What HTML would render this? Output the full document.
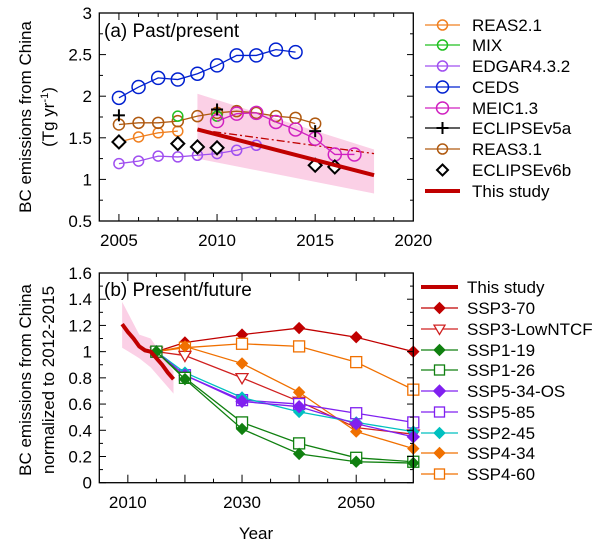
<!DOCTYPE html>
<html><head><meta charset="utf-8"><style>
body{margin:0;background:#fff}
svg{display:block;font-family:"Liberation Sans",Arial,sans-serif}
</style></head><body>
<svg id="c" width="600" height="551" viewBox="0 0 600 551" xmlns="http://www.w3.org/2000/svg"></svg>
<script>
// ---------- Panel (a) data ----------
const yearsCEDS=[2005,2006,2007,2008,2009,2010,2011,2012,2013,2014];
const valsCEDS=[1.98,2.11,2.22,2.2,2.27,2.37,2.49,2.49,2.56,2.53];
const yearsREAS3=[2005,2006,2007,2008,2009,2010,2011,2012,2013,2014,2015];
const valsREAS3=[1.66,1.68,1.68,1.7,1.76,1.8,1.82,1.8,1.76,1.74,1.67];
const yearsREAS2=[2005,2006,2007,2008];
const valsREAS2=[1.45,1.51,1.56,1.58];
const yearsMIX=[2008,2010];
const valsMIX=[1.76,1.76];
const yearsEDGAR=[2005,2006,2007,2008,2009,2010,2011,2012];
const valsEDGAR=[1.19,1.22,1.28,1.27,1.29,1.31,1.35,1.41];
const yearsMEIC=[2010,2011,2012,2013,2014,2015,2016,2017];
const valsMEIC=[1.7,1.79,1.8,1.69,1.6,1.49,1.3,1.3];
const yearsE5=[2005,2010,2015];
const valsE5=[1.77,1.84,1.58];
const yearsE6=[2005,2008,2009,2010,2015,2016];
const valsE6=[1.45,1.43,1.39,1.38,1.17,1.15];
const yearsStudyA=[2009,2018];
const valsStudyA=[1.6,1.05];
const valsDashA=[1.6,1.31];
const bandUpperA=[2.03,1.36];
const bandLowerA=[1.25,0.83];
const yTicksA=[0.5,1,1.5,2,2.5,3];
const xTicksA=[2005,2010,2015,2020];
// ---------- Panel (b) data ----------
const sspYears=[2015,2020,2030,2040,2050,2060];
const ssp370=[1,1.07,1.13,1.18,1.11,1.0];
const ssp3low=[1,0.97,0.8,0.62,0.42,0.37];
const ssp119=[1,0.79,0.41,0.22,0.16,0.15];
const ssp126=[1,0.8,0.46,0.3,0.19,0.16];
const ssp534=[1,0.82,0.62,0.58,0.45,0.35];
const ssp585=[1,0.82,0.63,0.6,0.53,0.46];
const ssp245=[1,0.84,0.65,0.54,0.46,0.39];
const ssp434=[1,1.04,0.91,0.69,0.39,0.26];
const ssp460=[1,1.03,1.06,1.04,0.92,0.71];
const yearsStudyB=[2009,2010,2011,2012,2013,2014,2015,2016,2017,2018];
const valsStudyB=[1.21,1.15,1.1,1.04,1.01,1.0,0.95,0.9,0.84,0.79];
const bandYearsB=[2009,2012,2014,2018];
const bandUpperB=[1.38,1.13,1.1,0.85];
const bandLowerB=[1.03,0.95,0.88,0.68];
const yTicksB=[0,0.2,0.4,0.6,0.8,1,1.2,1.4,1.6];
const xTicksB=[2010,2030,2050];

const NS="http://www.w3.org/2000/svg";
const svg=document.getElementById('c');
function mk(tag,attrs,parent){const e=document.createElementNS(NS,tag);for(const k in attrs)e.setAttribute(k,attrs[k]);(parent||svg).appendChild(e);return e;}
// axis functions
const xa=v=>99.3+(v-2004)*(413.3-99.3)/16;
const ya=v=>221-(v-0.5)*(221-13)/2.5;
const xb=v=>99.3+(v-2005)*(413.3-99.3)/55;
const yb=v=>482.7-v*(482.7-273)/1.6;

function frame(x0,y0,x1,y1,name){
  const r=mk('rect',{x:x0,y:y0,width:x1-x0,height:y1-y0,fill:'none',stroke:'#000','stroke-width':1.3});
  
  
}
function txt(x,y,s,opt,name){
  const t=mk('text',Object.assign({x:x,y:y,'font-size':17,fill:'#000'},opt||{}));
  t.textContent=s;
  
  
  return t;
}
function marker(g,type,x,y,color,r){
  if(type==='circle')mk('circle',{cx:x,cy:y,r:r,fill:'none',stroke:color,'stroke-width':1.5},g);
  else if(type==='fdiamond')mk('polygon',{points:`${x},${y-r} ${x+r},${y} ${x},${y+r} ${x-r},${y}`,fill:color,stroke:color},g);
  else if(type==='diamond')mk('polygon',{points:`${x},${y-r} ${x+r},${y} ${x},${y+r} ${x-r},${y}`,fill:'#fff',stroke:color,'stroke-width':2},g);
  else if(type==='square')mk('rect',{x:x-r,y:y-r,width:2*r,height:2*r,fill:'#fff',stroke:color,'stroke-width':1.3},g);
  else if(type==='tri')mk('polygon',{points:`${x-r},${y-r*0.7} ${x+r},${y-r*0.7} ${x},${y+r}`,fill:'#fff',stroke:color,'stroke-width':1.3},g);
  else if(type==='plus'){mk('line',{x1:x-r,y1:y,x2:x+r,y2:y,stroke:color,'stroke-width':2},g);mk('line',{x1:x,y1:y-r,x2:x,y2:y+r,stroke:color,'stroke-width':2},g);}
}
function series(name,xs,ys,fx,fy,color,type,r,line,lw){
  const g=mk('g',{});
  
  
  if(line){mk('polyline',{points:xs.map((v,i)=>fx(v)+','+fy(ys[i])).join(' '),fill:'none',stroke:color,'stroke-width':lw||1.3},g);}
  if(type)xs.forEach((v,i)=>marker(g,type,fx(v),fy(ys[i]),color,r));
}
function legend(name,y,label,color,type,r,lx0,lx1,tx,lw){
  const g=mk('g',{});
  
  
  if(type!=='diamond')mk('line',{x1:lx0,y1:y,x2:lx1,y2:y,stroke:color,'stroke-width':lw||1.3},g);
  if(type)marker(g,type,(lx0+lx1)/2,y,color,r);
  const t=mk('text',{x:tx,y:y+6,'font-size':17},g);t.textContent=label;
}

// ===== Panel (a) =====
// band
const bandA=mk('polygon',{points:[xa(yearsStudyA[0])+','+ya(bandUpperA[0]),xa(yearsStudyA[1])+','+ya(bandUpperA[1]),xa(yearsStudyA[1])+','+ya(bandLowerA[1]),xa(yearsStudyA[0])+','+ya(bandLowerA[0])].join(' '),fill:'#fbd0e6',stroke:'none'});


const dashA=mk('line',{x1:xa(yearsStudyA[0]),y1:ya(valsDashA[0]),x2:xa(yearsStudyA[1]),y2:ya(valsDashA[1]),stroke:'#c00000','stroke-width':1.3,'stroke-dasharray':'8,3,2,3'});


series('series-edgar',yearsEDGAR,valsEDGAR,xa,ya,'#a050f0','circle',5,true);
series('series-reas2',yearsREAS2,valsREAS2,xa,ya,'#f08020','circle',5,true);
series('series-reas3',yearsREAS3,valsREAS3,xa,ya,'#b05a10','circle',5.5,true);
series('series-mix',yearsMIX,valsMIX,xa,ya,'#20c020','circle',5,false);
series('series-ceds',yearsCEDS,valsCEDS,xa,ya,'#0020d0','circle',6.5,true);
series('series-meic',yearsMEIC,valsMEIC,xa,ya,'#d020c0','circle',6.5,true);
series('series-eclipse-v5a',yearsE5,valsE5,xa,ya,'#000','plus',6,false);
series('series-eclipse-v6b',yearsE6,valsE6,xa,ya,'#000','diamond',6.5,false);
series('series-this-study-a',yearsStudyA,valsStudyA,xa,ya,'#c00000',null,0,true,4);
frame(99.3,13,413.3,221,'plot-frame-a');
yTicksA.forEach(v=>{
  mk('line',{x1:99.3,y1:ya(v),x2:106,y2:ya(v),stroke:'#000'});
  mk('line',{x1:413.3,y1:ya(v),x2:407,y2:ya(v),stroke:'#000'});
  mk('line',{x1:99.3,y1:ya(v+0.25),x2:103,y2:ya(v+0.25),stroke:'#000'});
  mk('line',{x1:413.3,y1:ya(v+0.25),x2:410,y2:ya(v+0.25),stroke:'#000'});
  txt(92,ya(v)+6,String(v),{'text-anchor':'end'},'y-tick-label-a');
});
for(let yr=2005;yr<=2019;yr++){const L=xTicksA.includes(yr)?7:4;mk('line',{x1:xa(yr),y1:221,x2:xa(yr),y2:221-L,stroke:'#000'});mk('line',{x1:xa(yr),y1:13,x2:xa(yr),y2:13+L,stroke:'#000'});}
xTicksA.forEach(v=>txt(xa(v),246,String(v),{'text-anchor':'middle'},'x-tick-label-a'));
txt(104,37,'(a) Past/present',{'font-size':19},'panel-a-title');
const yt1=txt(0,0,'BC emissions from China',{'text-anchor':'middle','transform':'translate(31,117) rotate(-90)'},'y-axis-title-a');
const yt2=txt(0,0,'',{'text-anchor':'middle','transform':'translate(54,117) rotate(-90)'},'y-axis-unit-a');
yt2.innerHTML='(Tg yr<tspan dy="-6" font-size="11">-1</tspan><tspan dy="6">)</tspan>';
// legend a
const la=[['REAS2.1','#f08020','circle',5],['MIX','#20c020','circle',5],['EDGAR4.3.2','#a050f0','circle',5],['CEDS','#0020d0','circle',6],['MEIC1.3','#d020c0','circle',6],['ECLIPSEv5a','#000','plus',6],['REAS3.1','#b05a10','circle',5],['ECLIPSEv6b','#000','diamond',5.5],['This study','#c00000',null,0]];
const layA=[25,45,66,87,108,128,149,170,191];
la.forEach((e,i)=>legend('legend-entry-a-'+e[0].toLowerCase().replace(/[^a-z0-9]+/g,'-'),layA[i],e[0],e[1],e[2],e[3],425,460,472,e[2]?1.3:4));

// ===== Panel (b) =====
const bandPts=bandYearsB.map((v,i)=>xb(v)+','+yb(bandUpperB[i])).concat(bandYearsB.slice().reverse().map((v,i)=>xb(v)+','+yb(bandLowerB[bandYearsB.length-1-i])));
const bandB=mk('polygon',{points:bandPts.join(' '),fill:'#fbd0e6',stroke:'none'});


const sspDefs=[['ssp3-70',ssp370,'#c00000','fdiamond',5.5],['ssp4-60',ssp460,'#f07000','square',5.5],['ssp3-lowntcf',ssp3low,'#d02020','tri',6],['ssp4-34',ssp434,'#f07000','fdiamond',5.5],['ssp5-85',ssp585,'#8020f0','square',5.5],['ssp2-45',ssp245,'#00c0c0','fdiamond',5.5],['ssp5-34-os',ssp534,'#8020f0','fdiamond',6],['ssp1-26',ssp126,'#108010','square',5.5],['ssp1-19',ssp119,'#108010','fdiamond',5.5]];
sspDefs.forEach(d=>series('series-'+d[0],sspYears,d[1],xb,yb,d[2],d[3],d[4],true));
series('series-this-study-b',yearsStudyB,valsStudyB,xb,yb,'#c00000',null,0,true,4);
frame(99.3,273,413.3,482.7,'plot-frame-b');
yTicksB.forEach(v=>{
  mk('line',{x1:99.3,y1:yb(v),x2:106,y2:yb(v),stroke:'#000'});
  mk('line',{x1:413.3,y1:yb(v),x2:407,y2:yb(v),stroke:'#000'});
  if(v<1.6){mk('line',{x1:99.3,y1:yb(v+0.1),x2:103,y2:yb(v+0.1),stroke:'#000'});mk('line',{x1:413.3,y1:yb(v+0.1),x2:410,y2:yb(v+0.1),stroke:'#000'});}
  txt(92,yb(v)+6,String(v),{'text-anchor':'end'},'y-tick-label-b');
});
for(let yr=2010;yr<=2055;yr+=5){const L=yr%10===0?8:4;mk('line',{x1:xb(yr),y1:482.7,x2:xb(yr),y2:482.7-L,stroke:'#000'});mk('line',{x1:xb(yr),y1:273,x2:xb(yr),y2:273+L,stroke:'#000'});}
xTicksB.forEach(v=>txt(xb(v),508,String(v),{'text-anchor':'middle'},'x-tick-label-b'));
txt(104,296,'(b) Present/future',{'font-size':19},'panel-b-title');
txt(0,0,'BC emissions from China',{'text-anchor':'middle','transform':'translate(31,380) rotate(-90)'},'y-axis-title-b');
txt(0,0,'normalized to 2012-2015',{'text-anchor':'middle','transform':'translate(54,380) rotate(-90)'},'y-axis-subtitle-b');
txt(256,539,'Year',{'text-anchor':'middle'},'x-axis-title');
const lb=[['This study','#c00000',null,0],['SSP3-70','#c00000','fdiamond',5.5],['SSP3-LowNTCF','#d02020','tri',5.5],['SSP1-19','#108010','fdiamond',5.5],['SSP1-26','#108010','square',5],['SSP5-34-OS','#8020f0','fdiamond',6],['SSP5-85','#8020f0','square',5],['SSP2-45','#00c0c0','fdiamond',5.5],['SSP4-34','#f07000','fdiamond',5.5],['SSP4-60','#f07000','square',5]];
const layB=[287,308,329,350,370,391,412,433,453,474];
lb.forEach((e,i)=>legend('legend-entry-b-'+e[0].toLowerCase().replace(/[^a-z0-9]+/g,'-'),layB[i],e[0],e[1],e[2],e[3],421,458,467,e[2]?1.3:4));
</script>
</body></html>
